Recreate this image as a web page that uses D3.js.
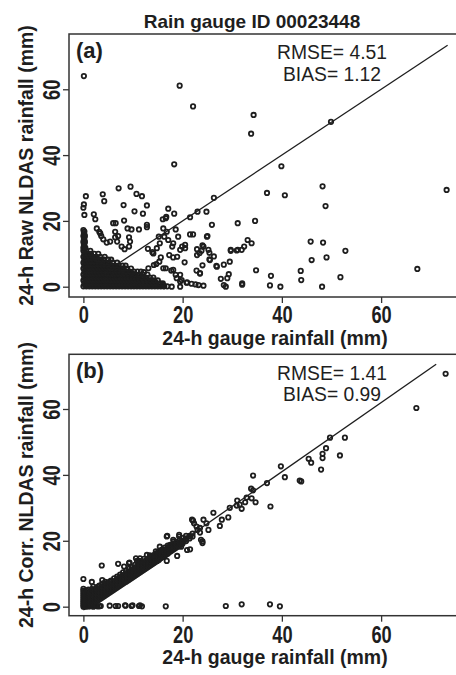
<!DOCTYPE html>
<html>
<head>
<meta charset="utf-8">
<script src="https://cdn.jsdelivr.net/npm/d3@7"></script>
<style>
  body { margin: 0; background: #fff; }
  svg { display: block; }
  .tick text { font-family: "Liberation Sans", Arial, sans-serif; font-weight: bold; }
</style>
</head>
<body>
<script>
var w = 456;
var h = 675;

var title = "Rain gauge ID 00023448";
var tickValues = [0, 20, 40, 60];
var xLabel = "24-h gauge rainfall (mm)";
var yLabels = ["24-h Raw NLDAS rainfall (mm)", "24-h Corr. NLDAS rainfall (mm)"];
var panelTags = ["(a)", "(b)"];
var rmse = [4.51, 1.41];
var bias = [1.12, 0.99];

// reference lines [x, y] start and end
var lineA = [[0, 0], [73.4, 73.4]];
var lineB = [[0, -1], [71.1, 73.6]];

// panel (a): gauge vs raw NLDAS, scattered points
var rawScatter = [
  [0.1,64],[19.4,61.1],[22.1,54.8],[34.3,52.2],[33.8,46.5],[49.9,50.1],[18.3,37.2],[39.9,36.6],
  [73.2,29.4],[37,28.5],[40.6,27.8],[48.2,30.5],[48.8,24.5],[26.3,27],[24.8,22.8],[23,22.8],[21.5,21.1],
  [7.1,29.9],[9.5,30.4],[10.7,28.2],[11.8,27.5],[3.9,28.1],[4.2,26],[0.5,27.5],[0.1,25],[0,24],
  [8.1,24.8],[10.3,22.9],[12.8,24.7],[12,22.2],[17.1,23.7],[18.3,22.2],[2.1,22],[16.7,21.2],[0.2,21.8],
  [2.4,20.5],[12.8,18.8],[6,19.3],[6.5,19.3],[8.2,20.1],[8.9,17.7],[9.7,17.4],[11.2,17.4],[12.8,18.1],
  [2.7,17.7],[3.2,16.7],[3.4,16.2],[3.6,15.4],[4,14.4],[4.7,13.4],[5.4,13.7],[6.4,15],[6.4,16.7],
  [7,15.4],[6.8,13.7],[7.7,12.2],[8.3,11.4],[9.2,15],[9.2,12.2],[9.4,13.7],
  [16.1,17.7],[16.6,20.8],[16,20.5],[16.8,16.7],[16.3,15.2],[15.2,15.2],[17.1,14.2],[18.1,13.2],
  [15.4,13.2],[14.8,11.7],[14.1,10.1],[18.6,17.4],[19.1,15.2],[19.9,12.2],[20.5,12.7],[17.9,12.2],
  [19.5,11.2],[20.5,11.7],[21.5,15.9],[22.1,15.9],[23.4,10.2],[24.2,12.2],[25,15.4],[25.2,11.2],
  [24.9,15.2],[24,12.6],[25.4,10.3],[26.3,9.2],[25.4,8.3],[25.9,18.8],[31.1,19.3],[34.6,20],
  [13,11.5],[13.9,10.5],[15.6,8.9],[17.3,9.6],[18.1,8.9],[18.9,9.1],[20.4,7.4],[22.9,11.4],[23.8,10.9],
  [22.9,9.6],[14.7,6.9],[16.6,5.6],[17.7,4.9],[18.6,3.6],[19.5,1.6],[20.9,1.3],[21.8,0.9],[22.6,0.7],
  [24.2,0.3],[13.1,5.6],[12.2,4.4],[16.1,5.6],[15.3,7.6],[14.2,6.6],[18.1,5.1],[18.8,2.6],[19.5,3.6],
  [23.5,4.1],[22.8,4.9],[19.8,2],[19.5,0],[17.8,0],[16.3,0.2],[23.2,0.5],[20.8,1.2],
  [24,6.5],[26.8,6.3],[28.3,6.7],[23.5,4],[29.3,3.8],[27.7,2.4],[28.7,0],[29.7,11.2],[31.1,11.2],
  [32.4,12.2],[33.1,14.2],[33.9,13.2],[34.8,5],[32,1],[32,0.6],[37.8,3.3],[37.6,0.4],[39.7,0],
  [43.8,4.8],[43.9,2],[45.8,13.7],[46,8.1],[48.3,13.4],[49,8.9],[52.8,10.9],[51.8,2.9],[48.1,0],
  [67.3,5.4],[26.9,6.1],[29.5,7.6],[29,2.6],[28.3,0.5],[29.7,10.9],[30.9,11],[31.9,11.2],[25.5,8.1]
];

// panel (a): dense cluster near the origin, rows of [nldas, gauge values]
var rawClusterRows = [
  [0.1, [0,0.6,1.2,1.8,2.4,3,3.6,4.2,4.8,5.4,6,6.6,7.2,7.8,8.4,9,9.6,10.2,10.8,11.4,12,12.6,13.2,13.8,14.4,15,15.6,16.2,16.9]],
  [0.55, [0.3,0.9,1.5,2.1,2.7,3.3,3.9,4.5,5.1,5.7,6.3,6.9,7.5,8.1,8.7,9.3,9.9,10.5,11.1,11.7,12.3,12.9,13.5,14.1,14.7,15.3,16]],
  [1.0, [0.2,0.8,1.4,2,2.6,3.2,3.8,4.4,5,5.6,6.2,6.8,7.4,8,8.6,9.2,9.8,10.4,11,11.6,12.2,12.8,13.4,14,14.7,15.4,16]],
  [1.45, [0.5,1.1,1.7,2.3,2.9,3.5,4.1,4.7,5.3,5.9,6.5,7.1,7.7,8.3,8.9,9.5,10.1,10.7,11.3,11.9,12.5,13.1,13.8,14.5]],
  [1.9, [0,0.6,1.2,1.8,2.4,3,3.6,4.2,4.8,5.4,6,6.6,7.2,7.8,8.4,9,9.6,10.2,10.8,11.4,12.1,12.8,13.5,14.2,15]],
  [2.35, [0.3,0.9,1.5,2.1,2.7,3.3,3.9,4.5,5.1,5.7,6.3,6.9,7.5,8.1,8.7,9.3,9.9,10.5,11.2,12,12.8]],
  [2.8, [0.2,0.8,1.4,2,2.6,3.2,3.8,4.4,5,5.6,6.2,6.8,7.4,8,8.6,9.2,9.8,10.4,11.1,11.8,12.6,13.4,14.1]],
  [3.25, [0.5,1.1,1.7,2.3,2.9,3.5,4.1,4.7,5.3,5.9,6.5,7.1,7.7,8.3,8.9,9.6,10.3,11]],
  [3.7, [0,0.6,1.2,1.8,2.4,3,3.6,4.2,4.8,5.4,6,6.6,7.2,7.8,8.4,9,9.7,10.4,11.2,12,12.9]],
  [4.15, [0.3,0.9,1.5,2.1,2.7,3.3,3.9,4.5,5.1,5.7,6.3,6.9,7.5,8.2,9,9.8]],
  [4.6, [0.2,0.8,1.4,2,2.6,3.2,3.8,4.4,5,5.6,6.2,6.8,7.4,8,8.7,9.4,10.2,10.9,11.6]],
  [5.05, [0.5,1.1,1.7,2.3,2.9,3.5,4.1,4.7,5.3,5.9,6.5,7.2,8]],
  [5.5, [0,0.6,1.2,1.8,2.4,3,3.6,4.2,4.8,5.4,6,6.6,7.3,8,8.8,9.6]],
  [5.95, [0.3,0.9,1.5,2.1,2.7,3.3,3.9,4.5,5.2,6,6.8]],
  [6.4, [0.2,0.8,1.4,2,2.6,3.2,3.8,4.4,5,5.7,6.4,7.1,7.9,8.5]],
  [6.85, [0.5,1.1,1.7,2.3,2.9,3.5,4.2,5]],
  [7.3, [0,0.6,1.2,1.8,2.4,3,3.7,4.4,5.1,5.9,6.8]],
  [7.75, [0.3,0.9,1.5,2.1,2.8,3.6]],
  [8.2, [0.2,0.8,1.4,2,2.7,3.4,4.2,5,5.6]],
  [8.65, [0.5,1.1,1.7,2.4]],
  [9.1, [0,0.6,1.2,1.9,2.6,3.4,4.3]],
  [9.55, [0.3,0.9,1.6]],
  [10.0, [0.2,0.8,1.5,2.2,3]],
  [10.9, [0,0.6,1.4]],
  [11.35, [0.2]],
  [11.8, [0,0.4]],
  [12.25, [0.2]],
  [12.7, [0.1]],
  [13.15, [0.2]],
  [13.6, [0,0.3]],
  [14.05, [0.2]],
  [14.5, [0.1]],
  [14.95, [0.2]],
  [15.4, [0,0.3]],
  [15.85, [0.2]],
  [16.3, [0.1]],
  [16.75, [0.2]],
  [17.2, [0]]
];

// panel (b): gauge vs corrected NLDAS, scattered points
var corrScatter = [
  [73,70.7],[67.1,60.3],[49.7,51.3],[52.7,51.3],[48.9,48.1],[48.2,46.4],[48.2,45.1],[51.7,45.9],
  [45.4,44.9],[45.9,43.7],[47.9,41.6],[39.8,42.6],[40.6,39.3],[43.6,38.3],[43.9,38],[34.2,39.8],
  [37,37.5],[33.8,35.8],[34.2,35.3],[33.9,32.9],[34.7,31.7],[37.7,30.4],[31,32.2],[31.5,31],
  [32.6,31.7],[31.9,29.7],[30.9,30.7],[29.5,30],[26.2,28.5],[32.9,33.1],[29.2,27.1],[27.9,26.4],
  [27.5,24.5],[24.2,26.4],[23.5,23.9],[24.8,25.3],[25.2,23.3],[21.9,26.4],[22.3,25.3],[22.8,24.3],
  [23,23.3],[23.5,22.5],[21.5,21.3],[20.5,20.3],[19.7,18.2],[21.5,17.4],[23.7,20.3],[24,19.3],
  [22.1,26.1],[19.3,21.3],[18.1,20.3],[16.8,21.3],[17.5,18.8],[16.1,17.2],[15.4,18.2],[14.1,15.2],
  [12.8,15.7],[11.4,14.7],[10.6,14.7],[16.9,21.5],[19.3,21.8],[24,19.8],[20.9,17.2],[18.9,15.4],
  [16.8,13.9],[11.2,13.9],[9.2,13.2],[7,13],[3.7,12.5],[3.8,8.1],[1.7,7.5],[0,8.4],[8.2,12.2],
  [10.8,13.9],[9.3,13.4],
  [3.5,0.2],[5.3,0.3],[6.5,0.2],[8.5,0.3],[9.9,0.4],[11.2,0.2],[11.8,0.1],[16.6,0.1],[28.7,0.2],
  [31.9,0.7],[37.6,0.7],[39.6,0.1],[7,0.2],[8.4,0.4],[9.7,0.2],[11.4,0.4],
  [0.3,0.2],[0.8,0.3],[1.3,0.1],[1.8,0.4],[2.3,0.2],[2.8,0.1]
];

// panel (b): dense band along the 1:1 line, columns of [gauge, nldas values]
var corrBandCols = [
  [0, [0,0.6,1.2,1.8,2.4,3,3.6,4.2,4.8,5.4]],
  [0.25, [0.3,0.9,1.5,2.1,2.7,3.3,3.9,4.6]],
  [0.5, [0,0.5,1.1,1.7,2.3,2.9,3.5,4.1]],
  [0.75, [0.3,0.9,1.5,2.1,2.7,3.3,3.9,4.8]],
  [1.0, [0.1,0.7,1.3,1.9,2.5,3.1,3.7,4.4,5.2]],
  [1.25, [0.4,1,1.6,2.2,2.8,3.4,4.1]],
  [1.5, [0.2,0.9,1.6,2.3,3,3.7,4.5]],
  [1.75, [0.5,1.3,2,2.7,3.4,4.1,5.3]],
  [2.0, [0,1,1.8,2.6,3.4,4.2,5,6.1]],
  [2.3, [1.2,2,2.8,3.6,4.4,5.2]],
  [2.6, [0.2,1.6,2.4,3.2,4,4.8,5.6]],
  [2.9, [1.9,2.7,3.5,4.3,5.1,6]],
  [3.2, [0.1,2.2,3,3.8,4.6,5.4,6.4]],
  [3.5, [2.5,3.3,4.1,4.9,5.7]],
  [3.8, [2.8,3.6,4.4,5.2,6,7]],
  [4.1, [3.1,3.9,4.7,5.5,6.4]],
  [4.4, [3.4,4.2,5,5.8,6.6,7.5]],
  [4.7, [3.7,4.5,5.3,6.1,7]],
  [5.0, [4,4.8,5.6,6.4,7.2]],
  [5.3, [4.3,5.1,5.9,6.7,7.6]],
  [5.6, [4.6,5.4,6.2,7,7.9]],
  [5.9, [4.9,5.7,6.5,7.3]],
  [6.2, [5.2,6,6.8,7.6,8.6]],
  [6.5, [5.5,6.3,7.1,7.9]],
  [6.8, [5.8,6.6,7.4,8.2,9.1]],
  [7.1, [6.1,6.9,7.7,8.5]],
  [7.4, [6.4,7.2,8,8.8,9.7]],
  [7.7, [6.7,7.5,8.3,9.1]],
  [8.0, [7,7.8,8.6,9.4,10.4]],
  [8.3, [7.3,8.1,8.9,9.7]],
  [8.6, [7.6,8.4,9.2,10,10.9]],
  [8.9, [7.9,8.7,9.5,10.3]],
  [9.2, [8.2,9,9.8,10.6,11.5]],
  [9.5, [8.5,9.3,10.1,10.9]],
  [9.8, [8.8,9.6,10.4,11.2,12]],
  [10.1, [9.1,9.9,10.7,11.5]],
  [10.4, [9.4,10.2,11,11.8,12.7]],
  [10.7, [9.7,10.5,11.3,12.1]],
  [11.0, [10,10.8,11.6,12.4,13.2]],
  [11.3, [10.3,11.1,11.9,12.7]],
  [11.6, [10.6,11.4,12.2,13,13.8]],
  [11.9, [10.9,11.7,12.5,13.3]],
  [12.2, [11.2,12,12.8,13.6,14.5]],
  [12.5, [11.5,12.3,13.1,13.9]],
  [12.8, [11.8,12.6,13.4,14.2]],
  [13.1, [12.1,12.9,13.7,14.5]],
  [13.4, [12.4,13.2,14,14.8,15.6]],
  [13.7, [12.7,13.5,14.3,15.1]],
  [14.0, [13,13.8,14.6,15.4]],
  [14.3, [13.3,14.1,14.9,15.7]],
  [14.6, [13.6,14.4,15.2,16,16.8]],
  [14.9, [13.9,14.7,15.5,16.3]],
  [15.2, [14.2,15,15.8,16.6]],
  [15.5, [14.6,15.4,16.2]],
  [15.8, [14.9,15.7,16.5,17.3]],
  [16.1, [15.2,16,16.8]],
  [16.4, [15.5,16.3,17.1,17.9]],
  [16.7, [15.8,16.6,17.4]],
  [17.0, [16.1,16.9,17.7,18.5]],
  [17.3, [16.5,17.3,18.1]],
  [17.6, [16.8,17.6,18.4]],
  [17.9, [17.1,17.9,18.7]],
  [18.2, [17.4,18.2,19,19.8]],
  [18.5, [17.7,18.5,19.3]],
  [18.8, [18,18.8,19.6]],
  [19.1, [18.3,19.1]],
  [19.4, [18.6,19.4,20.2]],
  [19.7, [18.9,19.7]],
  [20.0, [19.2,20,20.8]],
  [20.7, [19.9,20.7,21.5]],
  [21.4, [20.7,21.5]],
  [22.0, [21.3,22.2]]
];

var rawPoints = rawScatter.concat(d3.merge(rawClusterRows.map(function(r) {
  return r[1].map(function(x) { return [x, r[0]]; });
})));
var corrPoints = corrScatter.concat(d3.merge(corrBandCols.map(function(c) {
  return c[1].map(function(y) { return [c[0], y]; });
})));

var ink = "#1e1e1e";
var font = "Liberation Sans, Arial, sans-serif";

var svg = d3.select("body")
    .append("svg")
    .attr("width", w)
    .attr("height", h);

var xScale = d3.scaleLinear().domain([-2.9, 76.3]).range([69, 462]);

var panels = [
  { points: rawPoints, line: lineA, y: d3.scaleLinear().domain([-3.13, 76.8]).range([297, 34]),
    top: 34, bottom: 297, labelBase: 26 },
  { points: corrPoints, line: lineB, y: d3.scaleLinear().domain([-2.74, 76.6]).range([615.7, 354.3]),
    top: 354.3, bottom: 615.7, labelBase: 27 }
];

// title
svg.append("text")
    .attr("x", 252)
    .attr("y", 28)
    .attr("text-anchor", "middle")
    .style("font-family", font)
    .style("font-weight", "bold")
    .style("font-size", "19px")
    .attr("fill", ink)
    .text(title);

panels.forEach(function(p, i) {
  var g = svg.append("g");
  var yScale = p.y;

  g.append("clipPath").attr("id", "clip" + i)
    .append("rect")
    .attr("x", 69).attr("y", p.top)
    .attr("width", 393).attr("height", p.bottom - p.top);

  var plot = g.append("g").attr("clip-path", "url(#clip" + i + ")");

  plot.append("line")
      .attr("x1", xScale(p.line[0][0])).attr("y1", yScale(p.line[0][1]))
      .attr("x2", xScale(p.line[1][0])).attr("y2", yScale(p.line[1][1]))
      .attr("stroke", ink)
      .attr("stroke-width", 1.3);

  plot.selectAll("circle")
      .data(p.points)
      .enter()
      .append("circle")
      .attr("cx", function(d) { return xScale(d[0]); })
      .attr("cy", function(d) { return yScale(d[1]); })
      .attr("r", 2.2)
      .attr("fill", "none")
      .attr("stroke", ink)
      .attr("stroke-width", 1.8);

  // frame
  g.append("rect")
      .attr("x", 69).attr("y", p.top)
      .attr("width", 393).attr("height", p.bottom - p.top)
      .attr("fill", "none")
      .attr("stroke", "#333")
      .attr("stroke-width", 1.5);

  // x axis
  var xa = g.append("g")
      .attr("transform", "translate(0," + p.bottom + ")")
      .call(d3.axisBottom(xScale).tickValues(tickValues).tickSize(6).tickSizeOuter(0));
  xa.select(".domain").remove();
  xa.selectAll("line").attr("stroke", "#333").attr("stroke-width", 1.3);
  xa.selectAll("text")
      .attr("y", p.labelBase).attr("dy", 0)
      .attr("transform", "scale(0.76,1)")
      .attr("fill", ink)
      .style("font-size", "24px");

  // y axis
  var ya = g.append("g")
      .attr("transform", "translate(69,0)")
      .call(d3.axisLeft(yScale).tickValues(tickValues).tickSize(6).tickSizeOuter(0));
  ya.select(".domain").remove();
  ya.selectAll("line").attr("stroke", "#333").attr("stroke-width", 1.3);
  ya.selectAll("text")
      .attr("transform", "rotate(-90) scale(0.76,1)")
      .attr("x", 0).attr("y", -9).attr("dy", 0)
      .attr("text-anchor", "middle")
      .attr("fill", ink)
      .style("font-size", "24px");

  // x label
  g.append("text")
      .attr("x", 275)
      .attr("y", p.bottom + 48)
      .attr("text-anchor", "middle")
      .style("font-family", font)
      .style("font-weight", "bold")
      .style("font-size", "19.5px")
      .attr("fill", ink)
      .text(xLabel);

  // y label
  g.append("text")
      .attr("transform", "translate(33," + ((p.top + p.bottom) / 2) + ") rotate(-90)")
      .attr("text-anchor", "middle")
      .style("font-family", font)
      .style("font-weight", "bold")
      .style("font-size", "19.5px")
      .attr("fill", ink)
      .text(yLabels[i]);

  // panel tag
  g.append("text")
      .attr("x", 76)
      .attr("y", p.top + 24)
      .style("font-family", font)
      .style("font-weight", "bold")
      .style("font-size", "22px")
      .attr("fill", ink)
      .text(panelTags[i]);

  // stats
  g.append("text")
      .attr("x", 332)
      .attr("y", p.top + 25.5)
      .attr("text-anchor", "middle")
      .attr("transform", "translate(332,0) scale(0.92,1) translate(-332,0)")
      .style("font-family", font)
      .style("font-size", "21px")
      .attr("fill", ink)
      .text("RMSE= " + rmse[i].toFixed(2));

  g.append("text")
      .attr("x", 332)
      .attr("y", p.top + 47)
      .attr("text-anchor", "middle")
      .attr("transform", "translate(332,0) scale(0.92,1) translate(-332,0)")
      .style("font-family", font)
      .style("font-size", "21px")
      .attr("fill", ink)
      .text("BIAS= " + bias[i].toFixed(2));
});
</script>
</body>
</html>
